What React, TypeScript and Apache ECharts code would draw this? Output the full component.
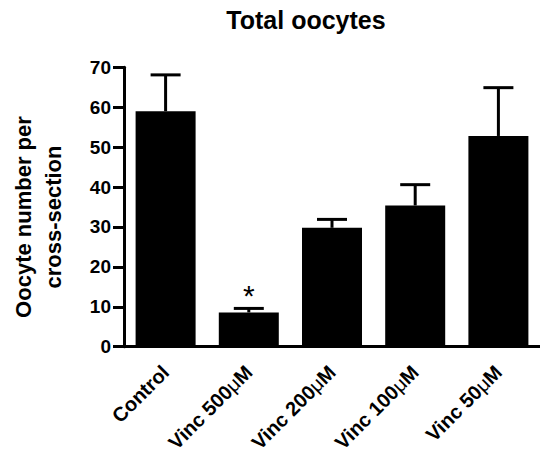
import React, { useEffect, useRef } from "react";
import * as echarts from "echarts";

const TITLE = "Total oocytes";
const Y_NAME = "Oocyte number per\ncross-section";
const categories = ["Control", "Vinc 500μM", "Vinc 200μM", "Vinc 100μM", "Vinc 50μM"];
const means = [59.0, 8.6, 29.8, 35.4, 52.8];
const errorTops = [68.1, 9.6, 31.9, 40.6, 64.9];
const significance = ["", "*", "", "", ""];
const yTicks = [0, 10, 20, 30, 40, 50, 60, 70];

const FONT = "'Liberation Sans', Arial, Helvetica, sans-serif";

export default function App() {
  const ref = useRef<HTMLDivElement>(null);
  useEffect(() => {
    if (!ref.current) return;
    const chart = echarts.init(ref.current, undefined, { renderer: "svg" });
    const errData = categories.map((c, i) => [i, means[i], errorTops[i], significance[i]]);
    chart.setOption({
      animation: false,
      backgroundColor: "#ffffff",
      graphic: [
        {
          type: "text",
          x: 306,
          y: 7,
          style: {
            text: TITLE,
            font: `bold 25px ${FONT}`,
            fill: "#000",
            textAlign: "center",
            textVerticalAlign: "top",
          },
        },
      ],
      grid: { left: 119.5, right: -4.5, top: 67.3, bottom: 105.7, containLabel: false },
      xAxis: {
        type: "category",
        data: categories,
        axisLine: { lineStyle: { color: "#000", width: 3 } },
        axisTick: { alignWithLabel: true, length: 10, lineStyle: { color: "#000", width: 3 } },
        axisLabel: {
          rotate: 45,
          margin: 22,
          color: "#000",
          fontFamily: FONT,
          fontWeight: "bold",
          fontSize: 20,
          interval: 0,
          formatter: (v: string) => v.replace("μ", "{mu|μ}"),
          rich: {
            mu: { fontWeight: "normal", fontSize: 20, fontFamily: FONT, color: "#000" },
          },
        },
      },
      yAxis: {
        type: "value",
        min: yTicks[0],
        max: yTicks[yTicks.length - 1],
        interval: 10,
        name: Y_NAME,
        nameLocation: "middle",
        nameGap: 56,
        nameTextStyle: {
          color: "#000",
          fontFamily: FONT,
          fontWeight: "bold",
          fontSize: 22,
          lineHeight: 30,
          padding: [0, 20, 0, 0],
        },
        splitLine: { show: false },
        axisLine: { show: true, lineStyle: { color: "#000", width: 3 } },
        axisTick: { show: true, length: 11, lineStyle: { color: "#000", width: 3 } },
        axisLabel: {
          margin: 13,
          color: "#000",
          fontFamily: FONT,
          fontWeight: "bold",
          fontSize: 19,
        },
      },
      series: [
        {
          type: "bar",
          data: means,
          barWidth: 60,
          itemStyle: { color: "#000" },
          z: 2,
        },
        {
          type: "custom",
          data: errData,
          z: 3,
          renderItem: (params: any, api: any) => {
            const i = api.value(0);
            const base = api.coord([i, api.value(1)]);
            const top = api.coord([i, api.value(2)]);
            const sig = significance[params.dataIndex];
            const capHalf = 15;
            const children: any[] = [
              {
                type: "line",
                shape: { x1: base[0], y1: base[1], x2: top[0], y2: top[1] },
                style: { stroke: "#000", lineWidth: 3 },
              },
              {
                type: "line",
                shape: { x1: top[0] - capHalf, y1: top[1], x2: top[0] + capHalf, y2: top[1] },
                style: { stroke: "#000", lineWidth: 3 },
              },
            ];
            if (sig) {
              children.push({
                type: "text",
                x: top[0],
                y: top[1] + 2,
                style: {
                  text: sig,
                  font: `normal 30px ${FONT}`,
                  fill: "#000",
                  textAlign: "center",
                  textVerticalAlign: "bottom",
                },
              });
            }
            return { type: "group", children };
          },
        },
      ],
    });
    return () => chart.dispose();
  }, []);
  return (
    <div
      ref={ref}
      style={{ position: "absolute", left: 0, top: 0, width: 540, height: 455, background: "#fff" }}
    />
  );
}
